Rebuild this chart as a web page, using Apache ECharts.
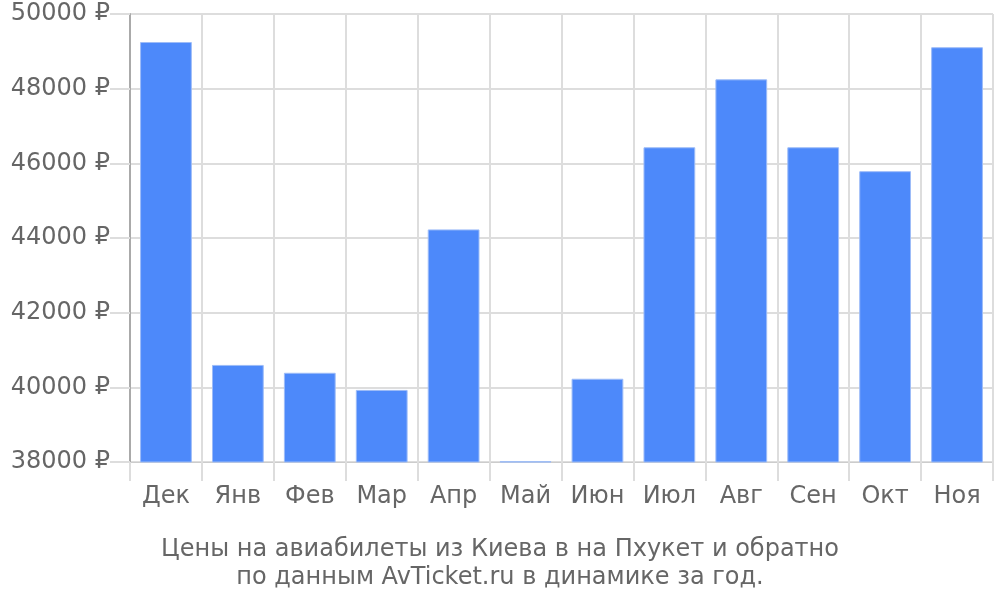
<!DOCTYPE html>
<html><head><meta charset="utf-8">
<script src="https://cdn.jsdelivr.net/npm/echarts@6/dist/echarts.min.js"></script>
<style>html,body{margin:0;padding:0;background:#fff}#c{width:1000px;height:600px}</style>
</head><body><div id="c"></div>
<script>
const categories = ['Дек','Янв','Фев','Мар','Апр','Май','Июн','Июл','Авг','Сен','Окт','Ноя'];
const prices = [49250, 40600, 40390, 39930, 44230, 38020, 40230, 46430, 48250, 46430, 45790, 49110];
const titleLines = ['Цены на авиабилеты из Киева в на Пхукет и обратно', 'по данным AvTicket.ru в динамике за год.'];
const chart = echarts.init(document.getElementById('c'));
const font = 'DejaVu Sans';
chart.setOption({
  animation: false,
  title: {
    text: titleLines.join('\n'),
    left: 'center', top: 531,
    textStyle: {fontFamily: font, fontSize: 24, fontWeight: 'normal', color: '#666', lineHeight: 28}
  },
  grid: {left: 130, right: 7, top: 14, bottom: 138},
  xAxis: {
    type: 'category', data: categories,
    axisLine: {show: true, lineStyle: {color: '#ccc'}},
    axisTick: {show: true, interval: 0, length: 19, lineStyle: {color: '#ddd', width: 2}},
    splitLine: {show: true, interval: 0, lineStyle: {color: '#ddd', width: 2}},
    axisLabel: {interval: 0, margin: 23, fontFamily: font, fontSize: 24, color: '#666'}
  },
  yAxis: {
    type: 'value', min: 38000, max: 50000, interval: 2000,
    axisLine: {show: true, lineStyle: {color: '#aaa', width: 2}},
    axisTick: {show: true, length: 20, lineStyle: {color: '#ddd', width: 2}},
    splitLine: {show: true, lineStyle: {color: '#ddd', width: 2}},
    axisLabel: {margin: 20, fontFamily: font, fontSize: 24, color: '#666', formatter: v => v + ' ₽'}
  },
  series: [{
    type: 'bar', data: prices, barWidth: '72%',
    itemStyle: {color: '#4d89fa', borderColor: '#9dbcf8', borderWidth: 1}
  }]
});
</script></body></html>
